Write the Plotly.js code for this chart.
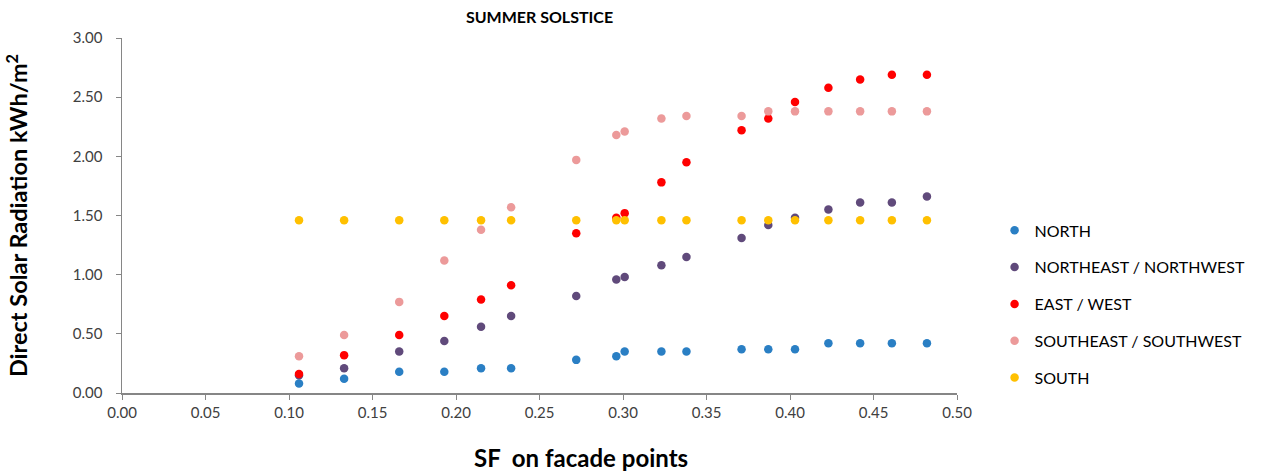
<!DOCTYPE html>
<html>
<head>
<meta charset="utf-8">
<script src="https://cdn.plot.ly/plotly-3.0.1.min.js"></script>
<style>html,body{margin:0;padding:0;background:#fff;}#chart{width:1264px;height:471px;}</style>
</head>
<body>
<div id="chart"></div>
<script>
const sf = [0.106, 0.133, 0.166, 0.193, 0.215, 0.233, 0.272, 0.296, 0.301, 0.323, 0.338, 0.371, 0.387, 0.403, 0.423, 0.442, 0.461, 0.482];
const north = [0.08, 0.12, 0.18, 0.18, 0.21, 0.21, 0.28, 0.31, 0.35, 0.35, 0.35, 0.37, 0.37, 0.37, 0.42, 0.42, 0.42, 0.42];
const northeast = [0.15, 0.21, 0.35, 0.44, 0.56, 0.65, 0.82, 0.96, 0.98, 1.08, 1.15, 1.31, 1.42, 1.48, 1.55, 1.61, 1.61, 1.66];
const east = [0.16, 0.32, 0.49, 0.65, 0.79, 0.91, 1.35, 1.48, 1.52, 1.78, 1.95, 2.22, 2.32, 2.46, 2.58, 2.65, 2.69, 2.69];
const southeast = [0.31, 0.49, 0.77, 1.12, 1.38, 1.57, 1.97, 2.18, 2.21, 2.32, 2.34, 2.34, 2.38, 2.38, 2.38, 2.38, 2.38, 2.38];
const south = [1.46, 1.46, 1.46, 1.46, 1.46, 1.46, 1.46, 1.46, 1.46, 1.46, 1.46, 1.46, 1.46, 1.46, 1.46, 1.46, 1.46, 1.46];
const names = ['NORTH', 'NORTHEAST / NORTHWEST', 'EAST / WEST', 'SOUTHEAST / SOUTHWEST', 'SOUTH'];
const colors = ['#2a7fc4', '#604a7b', '#ff0000', '#ec9a9a', '#ffc000'];
const series = [north, northeast, east, southeast, south];
const xTicks = [0, 0.05, 0.10, 0.15, 0.20, 0.25, 0.30, 0.35, 0.40, 0.45, 0.50];
const yTicks = [0, 0.5, 1.0, 1.5, 2.0, 2.5, 3.0];

const font = 'Lato, "Open Sans", "DejaVu Sans", sans-serif';
const traces = series.map((ys, i) => ({
  type: 'scatter', mode: 'markers', x: sf, y: ys, name: names[i],
  legendgroup: 'g' + i,
  marker: {color: colors[i], size: 8.5}
}));

const layout = {
  width: 1264, height: 471,
  margin: {l: 122, r: 307, t: 38, b: 78},
  paper_bgcolor: '#fff', plot_bgcolor: '#fff',
  font: {family: font, color: '#404040', size: 15},
  title: {text: '<b>SUMMER SOLSTICE</b>', x: 0.5, xref: 'paper', xanchor: 'center', y: 0.962, yref: 'container', yanchor: 'middle', font: {family: font, size: 16, color: '#000'}},
  xaxis: {
    range: [0, 0.5], tickvals: xTicks, ticktext: xTicks.map(v => v.toFixed(2)),
    showgrid: false, zeroline: false, showline: true, linecolor: '#868686', linewidth: 1.5,
    ticks: 'outside', ticklen: 5, tickcolor: '#868686', mirror: false,
    tickfont: {family: font, size: 15, color: '#404040'},
    automargin: false
  },
  yaxis: {
    range: [0, 3], tickvals: yTicks, ticktext: yTicks.map(v => v.toFixed(2)),
    showgrid: false, zeroline: false, showline: true, linecolor: '#868686', linewidth: 1.5,
    ticks: 'outside', ticklen: 5, tickcolor: '#868686', ticklabelstandoff: 10,
    tickfont: {family: font, size: 15, color: '#404040'},
    automargin: false,
    title: {text: '<b>Direct Solar Radiation kWh/m<sup>2</sup></b>', font: {family: font, size: 23.5, color: '#000'}, standoff: 38}
  },
  annotations: [{
    text: '<b>SF  on facade points</b>', xref: 'paper', yref: 'paper', x: 0.55, y: -0.182,
    xanchor: 'center', yanchor: 'middle', showarrow: false,
    font: {family: font, size: 24, color: '#000'}
  }],
  showlegend: true,
  legend: {x: 1.045, xanchor: 'left', y: 0.251, yanchor: 'middle', font: {family: font, size: 16, color: '#000'}, tracegroupgap: 13, itemwidth: 30, bgcolor: 'rgba(0,0,0,0)'}
};
Plotly.newPlot('chart', traces, layout, {displayModeBar: false, staticPlot: true});
</script>
</body>
</html>
